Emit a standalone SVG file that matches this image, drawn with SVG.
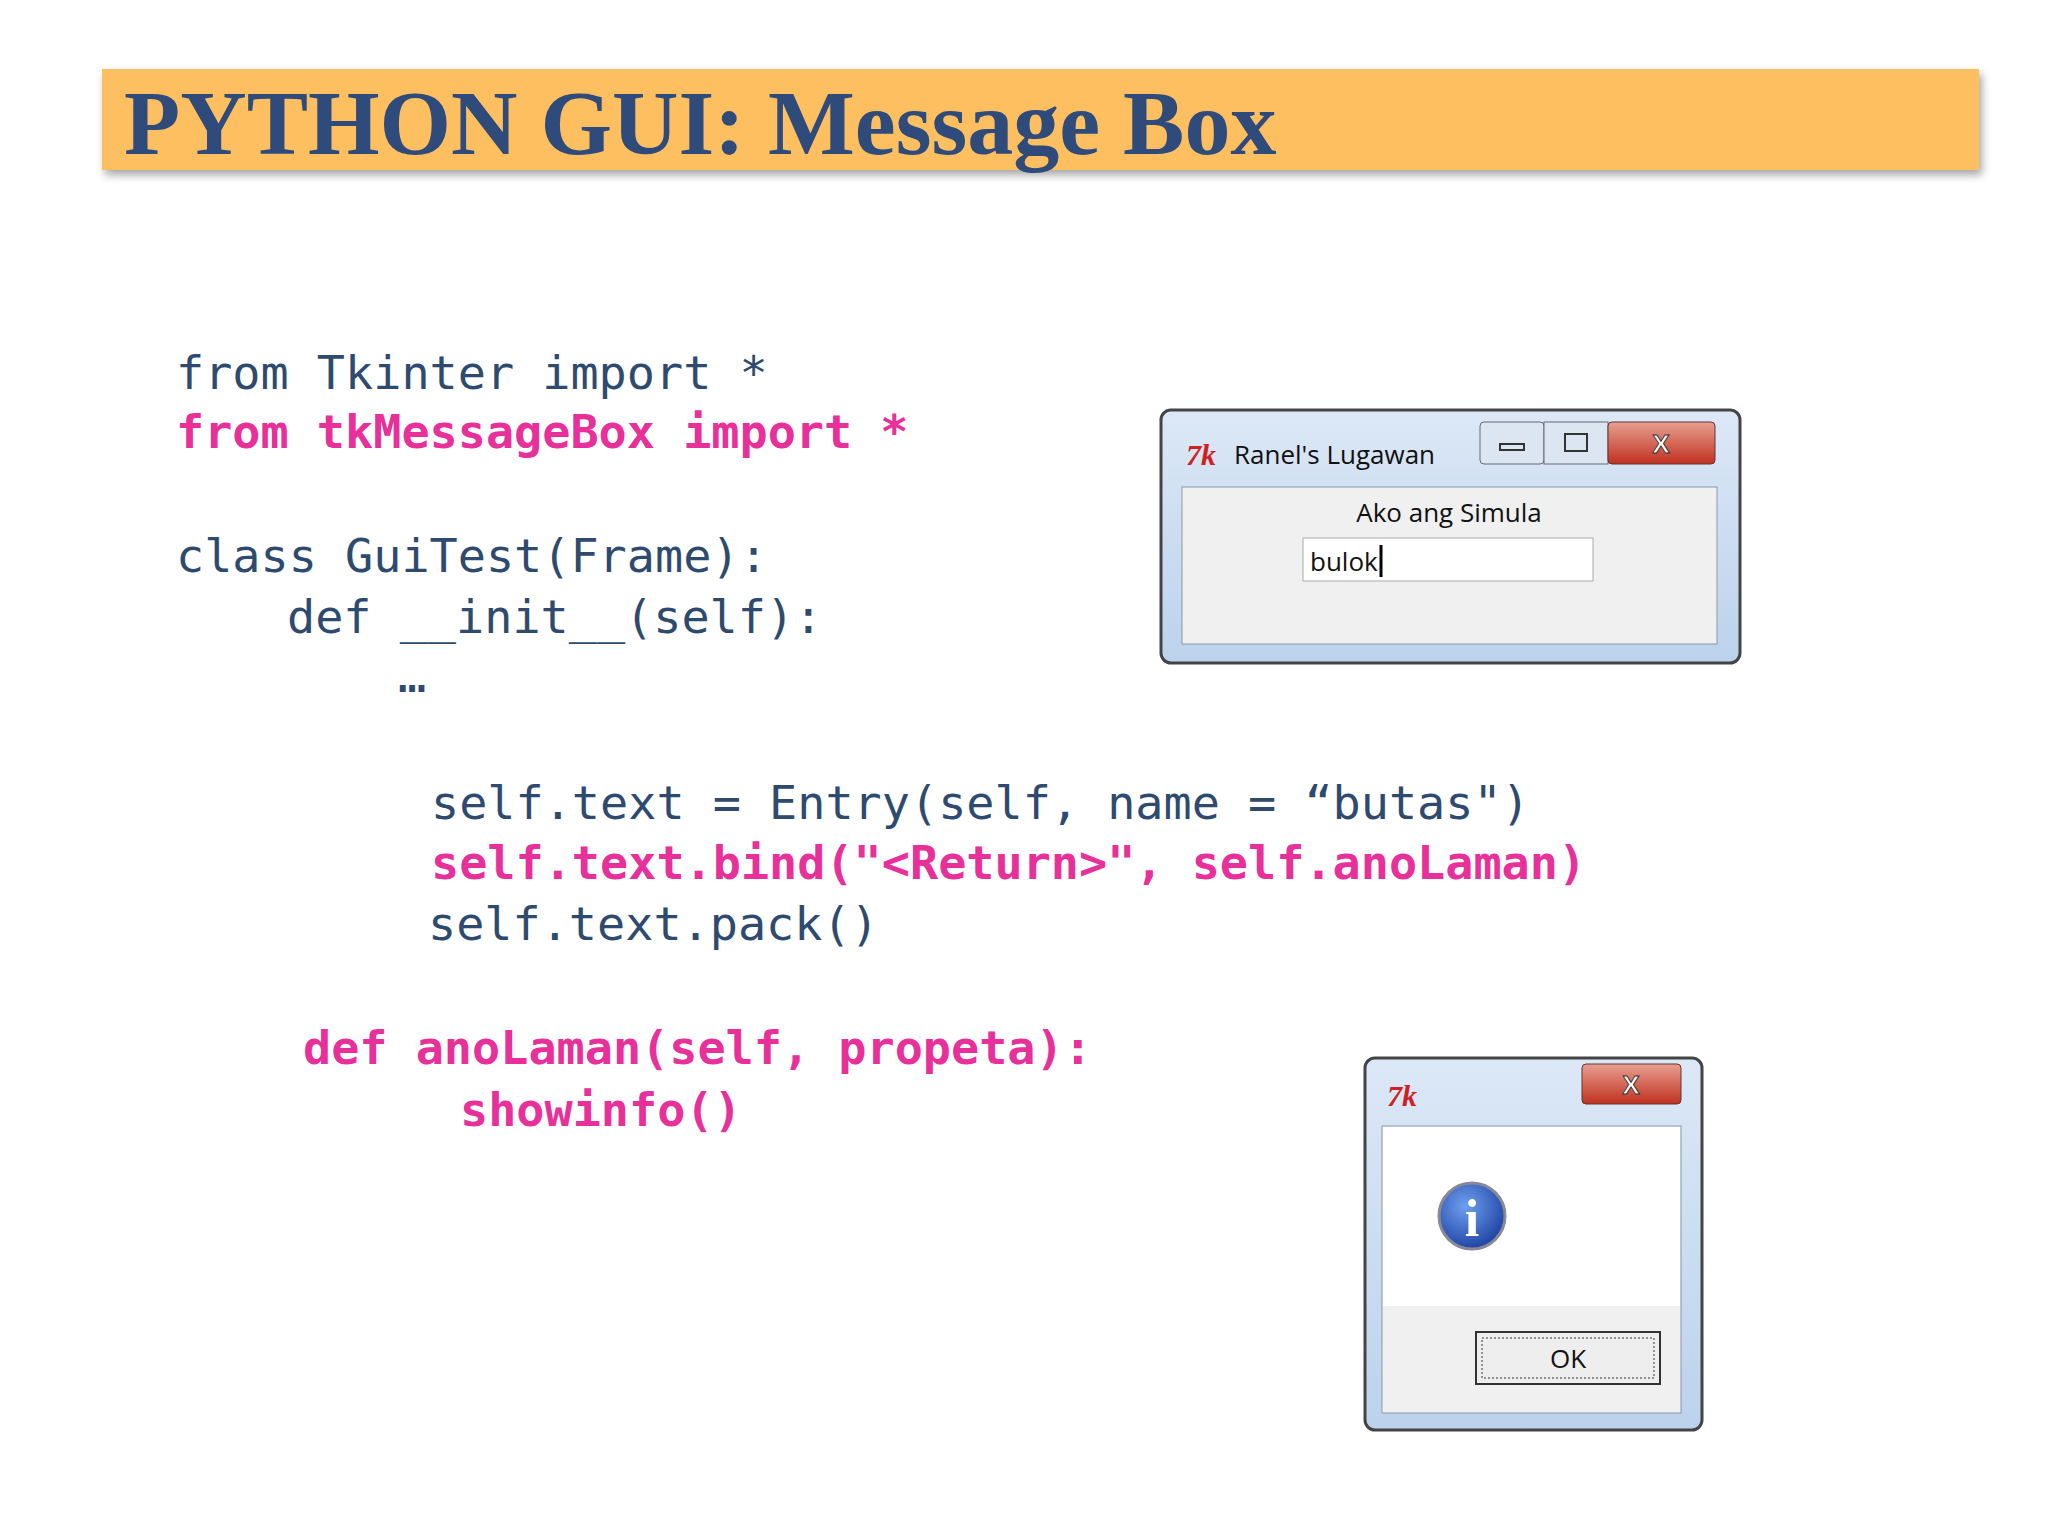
<svg xmlns="http://www.w3.org/2000/svg" width="2048" height="1536" viewBox="0 0 2048 1536">
<defs>
<style>
.code{font-family:"DejaVu Sans Mono",monospace;font-size:46.8px;fill:#2E4A6E}
.pk{fill:#E8309A;font-weight:bold}
.ui{font-family:"Open Sans","Noto Sans",sans-serif;font-size:26px;fill:#111}
</style>
<linearGradient id="fr" x1="0" y1="0" x2="0" y2="1"><stop offset="0" stop-color="#DCE8F6"/><stop offset="1" stop-color="#BCD2EC"/></linearGradient>
<linearGradient id="cl" x1="0" y1="0" x2="0" y2="1"><stop offset="0" stop-color="#E8A090"/><stop offset="1" stop-color="#C03020"/></linearGradient>
<radialGradient id="inf" cx="0.4" cy="0.35" r="0.7"><stop offset="0" stop-color="#6FA0F0"/><stop offset="1" stop-color="#1B3FA0"/></radialGradient>
<filter id="sh" x="-5%" y="-20%" width="110%" height="150%"><feDropShadow dx="3" dy="5" stdDeviation="4" flood-color="#000" flood-opacity="0.35"/></filter>
</defs>
<rect width="2048" height="1536" fill="#FFFFFF"/>
<g id="title">
<rect x="102" y="69" width="1877" height="101" fill="#FDBF5E" filter="url(#sh)"/>
<text x="124" y="154" font-family="Liberation Serif,serif" font-weight="bold" font-size="92" fill="#2F4B7C">PYTHON GUI: Message Box</text>
</g>
<g id="code">
<text class="code" x="176" y="389">from Tkinter import *</text>
<text class="code pk" x="176" y="448">from tkMessageBox import *</text>
<text class="code" x="176" y="572">class GuiTest(Frame):</text>
<text class="code" x="287" y="633">def __init__(self):</text>
<text class="code" x="398" y="692">…</text>
<text class="code" x="431" y="819">self.text = Entry(self, name = “butas")</text>
<text class="code pk" x="431" y="879">self.text.bind("&lt;Return&gt;", self.anoLaman)</text>
<text class="code" x="428" y="940">self.text.pack()</text>
<text class="code pk" x="303" y="1064">def anoLaman(self, propeta):</text>
<text class="code pk" x="460" y="1126">showinfo()</text>
</g>
<g id="window1">
<rect x="1161" y="410" width="579" height="253" rx="10" fill="url(#fr)" stroke="#444" stroke-width="3"/>
<text x="1186" y="465" font-family="Liberation Serif,serif" font-style="italic" font-weight="bold" font-size="30" fill="#D02020">7k</text>
<text class="ui" x="1234" y="464">Ranel's Lugawan</text>
<rect x="1480" y="422" width="64" height="42" rx="4" fill="#DCE6F2" stroke="#667"/>
<rect x="1500" y="444" width="24" height="6" fill="none" stroke="#333" stroke-width="2"/>
<rect x="1544" y="422" width="64" height="42" fill="#DCE6F2" stroke="#667"/>
<rect x="1565" y="434" width="22" height="17" fill="none" stroke="#333" stroke-width="2"/>
<rect x="1608" y="422" width="107" height="42" rx="4" fill="url(#cl)" stroke="#633"/>
<text x="1661" y="453" text-anchor="middle" font-family="Liberation Sans,sans-serif" font-weight="bold" font-size="26" fill="#fff" stroke="#333" stroke-width="1">X</text>
<rect x="1182" y="487" width="535" height="157" fill="#F0F0F0" stroke="#8899AA"/>
<text class="ui" x="1449" y="522" text-anchor="middle">Ako ang Simula</text>
<rect x="1303" y="538" width="290" height="43" fill="#FFFFFF" stroke="#AAA"/>
<text class="ui" x="1310" y="571">bulok</text>
<line x1="1381" y1="545" x2="1381" y2="577" stroke="#000" stroke-width="3"/>
</g>
<g id="window2">
<rect x="1365" y="1058" width="337" height="372" rx="10" fill="url(#fr)" stroke="#444" stroke-width="3"/>
<text x="1387" y="1106" font-family="Liberation Serif,serif" font-style="italic" font-weight="bold" font-size="30" fill="#D02020">7k</text>
<rect x="1582" y="1064" width="99" height="40" rx="4" fill="url(#cl)" stroke="#633"/>
<text x="1631" y="1094" text-anchor="middle" font-family="Liberation Sans,sans-serif" font-weight="bold" font-size="26" fill="#fff" stroke="#333" stroke-width="1">X</text>
<rect x="1382" y="1126" width="299" height="287" fill="#F0F0F0" stroke="#8899AA"/>
<rect x="1383" y="1127" width="297" height="179" fill="#FFFFFF"/>
<circle cx="1472" cy="1216" r="33" fill="url(#inf)" stroke="#889" stroke-width="3"/>
<text x="1472" y="1236" text-anchor="middle" font-family="Liberation Serif,serif" font-weight="bold" font-size="52" fill="#fff">i</text>
<rect x="1476" y="1332" width="184" height="52" fill="#EEE" stroke="#333" stroke-width="2"/>
<rect x="1482" y="1338" width="172" height="40" fill="none" stroke="#333" stroke-dasharray="2 2"/>
<text class="ui" x="1568" y="1368" text-anchor="middle">OK</text>
</g>
</svg>
